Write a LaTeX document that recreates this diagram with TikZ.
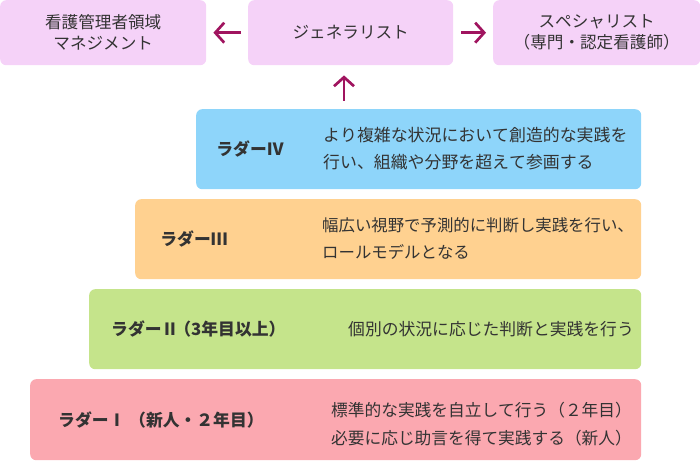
\documentclass[tikz,border=0pt]{standalone}
\usepackage{fontspec}
\setmainfont{Noto Sans CJK JP}[Kerning=Off]
\usetikzlibrary{arrows.meta}
\definecolor{topc}{RGB}{245,210,248}
\definecolor{bluec}{RGB}{142,213,250}
\definecolor{orangec}{RGB}{255,209,144}
\definecolor{greenc}{RGB}{197,228,139}
\definecolor{pinkc}{RGB}{251,168,176}
\definecolor{arrc}{RGB}{160,20,95}
\definecolor{txtc}{RGB}{51,51,51}
\begin{document}
\begin{tikzpicture}[x=1pt,y=-1pt,
  box/.style={rounded corners=6pt, inner sep=0pt, anchor=north west, text=txtc,
    font=\fontsize{16.6}{21}\selectfont, align=center},
  lab/.style={inner sep=0pt, text=txtc, font=\fontsize{16.8}{21}\selectfont\bfseries},
  desc/.style={inner sep=0pt, text=txtc, anchor=west, align=left},
  arr/.style={draw=arrc, line width=2.7pt, -{Straight Barb[length=9pt,width=20pt,line width=2.7pt]}}]
\useasboundingbox (0,0) rectangle (700,462);
% top row
\node[box, fill=topc, minimum width=206pt, minimum height=65pt] (mgmt) at (0,0) {看護管理者領域\\マネジメント};
\node[box, fill=topc, minimum width=205pt, minimum height=65pt] (gen) at (248,0) {ジェネラリスト};
\node[box, fill=topc, minimum width=207pt, minimum height=65pt] (spec) at (493,0) {スペシャリスト\\（専門・認定看護師）};
% ladder boxes
\node[box, fill=bluec, minimum width=445pt, minimum height=80pt] (l4) at (196,109) {};
\node[box, fill=orangec, minimum width=506pt, minimum height=80pt] (l3) at (135,199) {};
\node[box, fill=greenc, minimum width=552pt, minimum height=80pt] (l2) at (89,289) {};
\node[box, fill=pinkc, minimum width=611pt, minimum height=81pt] (l1) at (30,379) {};
% labels
\node[lab] (l4lab) at (250,149) {ラダーⅣ};
\node[lab] (l3lab) at (194,239) {ラダーⅢ};
\node[lab, anchor=west] (l2lab) at (111,329) {ラダーⅡ\kern-4pt（3年目以上）};
\node[lab, anchor=west] (l1lab) at (58,420) {ラダーⅠ （新人・２年目）};
% descriptions
\node[desc, font=\fontsize{16.9}{27}\selectfont] (l4d) at (323,149) {より複雑な状況において創造的な実践を\\行い、組織や分野を超えて参画する};
\node[desc, font=\fontsize{16.4}{27}\selectfont] (l3d) at (322,239) {幅広い視野で予測的に判断し実践を行い、\\ロールモデルとなる};
\node[desc, font=\fontsize{16.8}{27}\selectfont] (l2d) at (348,329) {個別の状況に応じた判断と実践を行う};
\node[desc, font=\fontsize{16.7}{28}\selectfont] (l1d) at (331,424) {標準的な実践を自立して行う（２年目）\\必要に応じ助言を得て実践する（新人）};
% arrows
\draw[arr, shorten <=7pt, shorten >=7pt] (gen.west) -- (mgmt.east);
\draw[arr, shorten <=8pt, shorten >=7pt] (gen.east) -- (spec.west);
\draw[arr, shorten <=8pt, shorten >=10pt] (l4.north -| 344,0) -- (gen.south -| 344,0);
\end{tikzpicture}
\end{document}
